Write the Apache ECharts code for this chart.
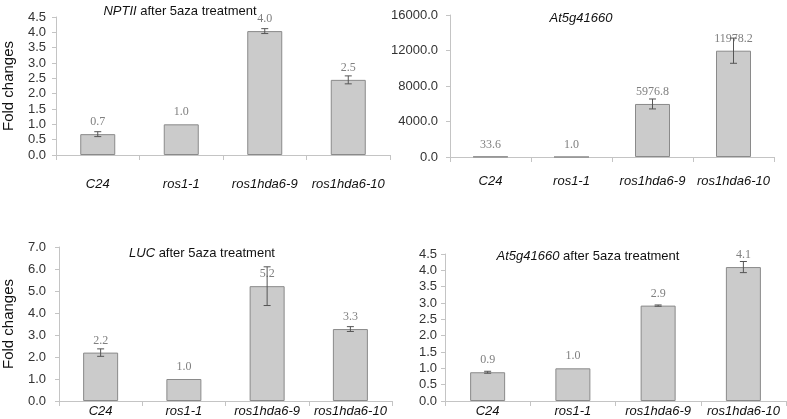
<!DOCTYPE html>
<html><head><meta charset="utf-8">
<script src="https://cdn.jsdelivr.net/npm/echarts@6/dist/echarts.min.js"></script>
<style>html,body{margin:0;padding:0;background:#fff}#c{width:787px;height:419px}</style>
</head><body><div id="c"></div>
<script>
var categories = ['C24', 'ros1-1', 'ros1hda6-9', 'ros1hda6-10'];

var nptiiValues = [0.68, 1.0, 4.04, 2.45];
var nptiiErrors = [0.08, 0.0, 0.08, 0.13];
var nptiiLabels = ['0.7', '1.0', '4.0', '2.5'];

var at5Values = [33.6, 1.0, 5976.8, 11978.2];
var at5Errors = [0, 0, 560, 1420];
var at5Labels = ['33.6', '1.0', '5976.8', '11978.2'];

var lucValues = [2.2, 1.0, 5.22, 3.27];
var lucErrors = [0.17, 0.0, 0.88, 0.11];
var lucLabels = ['2.2', '1.0', '5.2', '3.3'];

var at5azaValues = [0.88, 1.0, 2.92, 4.1];
var at5azaErrors = [0.03, 0.0, 0.02, 0.17];
var at5azaLabels = ['0.9', '1.0', '2.9', '4.1'];

var chart = echarts.init(document.getElementById('c'));

var panels = [
  {vals: nptiiValues, errs: nptiiErrors, labs: nptiiLabels, min: 0, max: 4.5, interval: 0.5,
   grid: {left: 53, top: 17, width: 337, height: 138}, catMargin: 23, yMargin: 10, yName: 'Fold changes', nameGap: 40,
   title: {it: 'NPTII', rest: ' after 5aza treatment', x: 175, y: 0}},
  {vals: at5Values, errs: at5Errors, labs: at5Labels, min: 0, max: 16000, interval: 4000,
   grid: {left: 450, top: 15, width: 324, height: 142}, catMargin: 18, yMargin: 12, yName: '', nameGap: 0,
   title: {it: 'At5g41660', rest: '', x: 576, y: 7}},
  {vals: lucValues, errs: lucErrors, labs: lucLabels, min: 0, max: 7, interval: 1,
   grid: {left: 57, top: 247, width: 335, height: 154}, catMargin: 4, yMargin: 13, yName: 'Fold changes', nameGap: 43,
   title: {it: 'LUC', rest: ' after 5aza treatment', x: 197, y: 242}},
  {vals: at5azaValues, errs: at5azaErrors, labs: at5azaLabels, min: 0, max: 4.5, interval: 0.5,
   grid: {left: 445, top: 254, width: 341, height: 147}, catMargin: 4, yMargin: 8, yName: '', nameGap: 0,
   title: {it: 'At5g41660', rest: ' after 5aza treatment', x: 583, y: 245}}
];

var grids = [], xAxes = [], yAxes = [], series = [], titles = [];
var axisColor = '#c4c4c4';
panels.forEach(function (p, i) {
  grids.push(p.grid);
  xAxes.push({
    type: 'category', gridIndex: i, data: categories,
    axisLine: {lineStyle: {color: axisColor}},
    axisTick: {show: true, length: 5, interval: 0, lineStyle: {color: axisColor}},
    axisLabel: {interval: 0, margin: p.catMargin, color: '#111', fontFamily: 'Liberation Sans', fontSize: 13, fontStyle: 'italic'}
  });
  yAxes.push({
    type: 'value', gridIndex: i, min: p.min, max: p.max, interval: p.interval,
    name: p.yName, nameLocation: 'middle', nameGap: p.nameGap,
    nameTextStyle: {fontFamily: 'Liberation Sans', fontSize: 15, color: '#111'},
    axisLine: {show: true, lineStyle: {color: axisColor}},
    axisTick: {show: true, length: 4, lineStyle: {color: axisColor}},
    splitLine: {show: false},
    axisLabel: {margin: p.yMargin, color: '#333', fontFamily: 'Liberation Sans', fontSize: 13,
      formatter: function (v) { return v.toFixed(1); }}
  });
  series.push({
    type: 'bar', xAxisIndex: i, yAxisIndex: i, data: p.vals, barWidth: 35,
    itemStyle: {color: '#cbcbcb', borderColor: '#8a8a8a', borderWidth: 1},
    label: {show: true, position: 'top', distance: 6, color: '#808080',
      fontFamily: 'Liberation Serif', fontSize: 12,
      formatter: function (d) { return p.labs[d.dataIndex]; }},
    z: 2
  });
  var errData = p.vals.map(function (v, k) { return [k, v - p.errs[k], v + p.errs[k]]; });
  series.push({
    type: 'custom', xAxisIndex: i, yAxisIndex: i, data: errData, z: 5,
    renderItem: function (params, api) {
      if (p.errs[params.dataIndex] === 0) return null;
      var lo = api.coord([api.value(0), api.value(1)]);
      var hi = api.coord([api.value(0), api.value(2)]);
      var w = 3.5;
      var st = {stroke: '#555', lineWidth: 1};
      return {type: 'group', children: [
        {type: 'line', shape: {x1: lo[0], y1: lo[1], x2: hi[0], y2: hi[1]}, style: st},
        {type: 'line', shape: {x1: lo[0] - w, y1: lo[1], x2: lo[0] + w, y2: lo[1]}, style: st},
        {type: 'line', shape: {x1: hi[0] - w, y1: hi[1], x2: hi[0] + w, y2: hi[1]}, style: st}
      ]};
    }
  });
  titles.push({
    text: '{i|' + p.title.it + '}{n|' + p.title.rest + '}',
    left: p.title.x, top: p.title.y, textAlign: 'center',
    textStyle: {fontWeight: 'normal', rich: {
      i: {fontFamily: 'Liberation Sans', fontSize: 13, fontStyle: 'italic', fontWeight: 'normal', color: '#111'},
      n: {fontFamily: 'Liberation Sans', fontSize: 13, fontWeight: 'normal', color: '#111'}
    }}
  });
});

chart.setOption({
  animation: false,
  title: titles,
  grid: grids,
  xAxis: xAxes,
  yAxis: yAxes,
  series: series
});
</script>
</body></html>
